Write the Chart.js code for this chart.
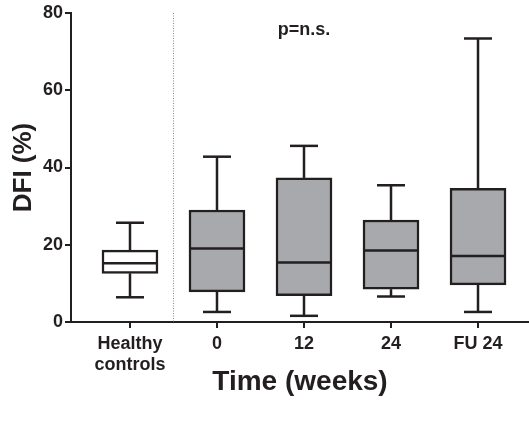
<!DOCTYPE html>
<html>
<head>
<meta charset="utf-8">
<script src="https://cdn.jsdelivr.net/npm/chart.js@4.4.0/dist/chart.umd.min.js"></script>
<style>
  html, body { margin: 0; padding: 0; background: #fff; }
  #wrap { width: 529px; height: 430px; }
</style>
</head>
<body>
<div id="wrap"><canvas id="dfi"></canvas></div>
<script>
// ── DFI box plot: healthy controls vs. treatment time points ──

const groups = ['Healthy controls', '0', '12', '24', 'FU 24'];
const tickLabels = [['Healthy', 'controls'], '0', '12', '24', 'FU 24'];
const whiskerLow = [6.4, 2.6, 1.6, 6.6, 2.6];
const q1 = [12.6, 7.8, 6.8, 8.5, 9.6];
const median = [15.2, 19.0, 15.4, 18.5, 17.1];
const q3 = [18.6, 29.0, 37.3, 26.4, 34.6];
const whiskerHigh = [25.7, 42.8, 45.6, 35.4, 73.4];
const yTicks = [0, 20, 40, 60, 80];
const annotation = { text: 'p=n.s.', x: 2, y: 75.5 };
const separatorAt = 0.5;

const INK = '#231f20';
const FONT = "'Liberation Sans', Arial, Helvetica, sans-serif";

// whiskers, caps and median lines drawn on top of the floating bars
const boxWhiskers = {
  id: 'boxWhiskers',
  beforeDatasetsDraw(chart) {
    const { ctx, chartArea, scales: { x } } = chart;
    const px = Math.round(x.getPixelForValue(separatorAt)) + 0.5;
    ctx.save();
    ctx.strokeStyle = '#8a8a8a';
    ctx.lineWidth = 1;
    ctx.setLineDash([1, 1.5]);
    ctx.beginPath();
    ctx.moveTo(px, chartArea.top);
    ctx.lineTo(px, chartArea.bottom);
    ctx.stroke();
    ctx.restore();
  },
  afterDatasetsDraw(chart) {
    const { ctx, scales: { x, y } } = chart;
    const boxHalf = 28, capHalf = 14;
    ctx.save();
    ctx.strokeStyle = INK;
    ctx.lineWidth = 2.5;
    ctx.lineCap = 'butt';
    groups.forEach((g, i) => {
      const cx = x.getPixelForValue(i);
      const seg = (x0, y0, x1, y1) => { ctx.beginPath(); ctx.moveTo(x0, y0); ctx.lineTo(x1, y1); ctx.stroke(); };
      seg(cx, y.getPixelForValue(q3[i]), cx, y.getPixelForValue(whiskerHigh[i]));
      seg(cx, y.getPixelForValue(q1[i]), cx, y.getPixelForValue(whiskerLow[i]));
      seg(cx - capHalf, y.getPixelForValue(whiskerHigh[i]), cx + capHalf, y.getPixelForValue(whiskerHigh[i]));
      seg(cx - capHalf, y.getPixelForValue(whiskerLow[i]), cx + capHalf, y.getPixelForValue(whiskerLow[i]));
      seg(cx - boxHalf + 1, y.getPixelForValue(median[i]), cx + boxHalf - 1, y.getPixelForValue(median[i]));
    });
    ctx.fillStyle = INK;
    ctx.font = 'bold 18px ' + FONT;
    ctx.textAlign = 'center';
    ctx.textBaseline = 'middle';
    ctx.fillText(annotation.text, x.getPixelForValue(annotation.x), y.getPixelForValue(annotation.y));
    ctx.restore();
  }
};

new Chart(document.getElementById('dfi'), {
  type: 'bar',
  data: {
    datasets: [{
      label: 'DFI',
      data: groups.map((g, i) => ({ x: i, y: [q1[i], q3[i]] })),
      backgroundColor: ['#ffffff', '#a7a9ac', '#a7a9ac', '#a7a9ac', '#a7a9ac'],
      borderColor: INK,
      borderWidth: 2.5,
      borderSkipped: false,
      barThickness: 56
    }]
  },
  options: {
    responsive: true, maintainAspectRatio: false,
    animation: false,
    layout: { padding: { top: 13, right: 0, bottom: 0, left: 0 } },
    plugins: { legend: { display: false }, tooltip: { enabled: false } },
    scales: {
      x: {
        type: 'linear',
        min: -0.678, max: 4.586,
        offset: false,
        afterBuildTicks: s => { s.ticks = groups.map((g, i) => ({ value: i })); },
        afterFit: s => { s.height = 108; },
        border: { display: true, color: INK, width: 2 },
        grid: { drawOnChartArea: false, offset: false, color: INK, lineWidth: 2, tickLength: 6 },
        ticks: {
          color: INK, padding: 6, maxRotation: 0, autoSkip: false,
          font: { family: FONT, size: 18, weight: 'bold', lineHeight: 1.15 },
          callback: v => tickLabels[v]
        },
        title: {
          display: true, text: 'Time (weeks)', color: INK,
          font: { family: FONT, size: 28, weight: 'bold' },
          padding: { top: 0, bottom: 31 }
        }
      },
      y: {
        min: 0, max: 80,
        afterBuildTicks: s => { s.ticks = yTicks.map(v => ({ value: v })); },
        afterFit: s => { s.width = 71; },
        border: { display: true, color: INK, width: 2 },
        grid: { drawOnChartArea: false, color: INK, lineWidth: 2, tickLength: 6 },
        ticks: {
          color: INK, padding: 2,
          font: { family: FONT, size: 18, weight: 'bold' }
        },
        title: {
          display: true, text: 'DFI (%)', color: INK,
          font: { family: FONT, size: 26, weight: 'bold' },
          padding: { top: 8, bottom: 0 }
        }
      }
    }
  },
  plugins: [boxWhiskers]
});
</script>
</body>
</html>
